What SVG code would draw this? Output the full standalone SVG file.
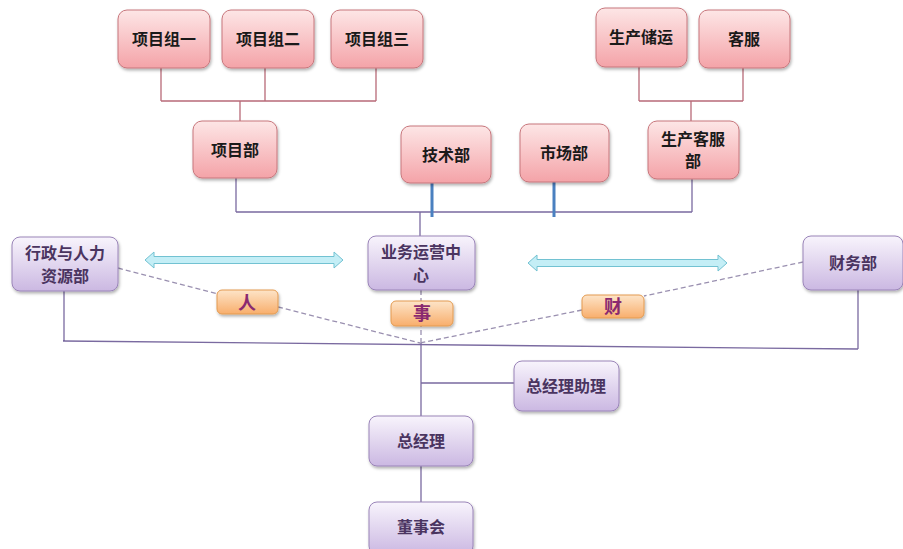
<svg xmlns="http://www.w3.org/2000/svg" width="903" height="549" viewBox="0 0 903 549">
<defs>
<linearGradient id="gp" x1="0" y1="0" x2="0" y2="1"><stop offset="0" stop-color="#fde6e6"/><stop offset="1" stop-color="#f4a3a8"/></linearGradient>
<linearGradient id="gv" x1="0" y1="0" x2="0" y2="1"><stop offset="0" stop-color="#f8f4fc"/><stop offset="1" stop-color="#cbb8e2"/></linearGradient>
<linearGradient id="go" x1="0" y1="0" x2="0" y2="1"><stop offset="0" stop-color="#fde4c8"/><stop offset="1" stop-color="#f8ae6c"/></linearGradient>
<filter id="sh" x="-10%" y="-10%" width="130%" height="140%"><feDropShadow dx="1" dy="2" stdDeviation="1.5" flood-color="#000" flood-opacity="0.3"/></filter>
<style>
.p{fill:url(#gp);stroke:#c7767c;stroke-width:1;filter:url(#sh)}
.v{fill:url(#gv);stroke:#9a84b8;stroke-width:1;filter:url(#sh)}
.o{fill:url(#go);stroke:#e39a50;stroke-width:1;filter:url(#sh)}
.t{font-family:"Noto Sans CJK SC",sans-serif;font-weight:bold;font-size:16px;text-anchor:middle;fill:#1a1a1a}
.tv{font-family:"Noto Sans CJK SC",sans-serif;font-weight:bold;font-size:16px;text-anchor:middle;fill:#4a3460}
.to{font-family:"Noto Sans CJK SC",sans-serif;font-weight:bold;font-size:18px;text-anchor:middle;fill:#8a2a70}
.lr{stroke:#b86a78;stroke-width:1.3;fill:none}
.lp{stroke:#7a6aa0;stroke-width:1.3;fill:none}
.lb{stroke:#4a80c0;stroke-width:3;fill:none}
.ld{stroke:#9a90b0;stroke-width:1.3;stroke-dasharray:5,3;fill:none}
.ar{fill:#c4eef6;stroke:#72c2d2;stroke-width:1}
</style>
</defs>
<g id="connectors">
<path class="lr" d="M161 68V101M265 68V101M376 68V101M161 101H376M240 101V121"/>
<path class="lr" d="M639 67V101M743 68V101M639 101H743M691 101V121"/>
<path class="lp" d="M236 178V212M692 179V212M236 212H692M420 212V236"/>
<path class="lb" d="M432 183V217M554 182V217"/>
<path class="ld" d="M118 268L218 294M278 307L420 343M803 262L644 296M582 310L420 343M421 290V343"/>
<path class="lp" d="M63 341L858 349M64 291V341M858 290V349"/>
<path class="lp" d="M421 343V416M421 383H514M421 466V502"/>
<path class="ar" d="M145 260L154 252V256.5H334V252L343 260L334 268V263.5H154V268Z"/>
<path class="ar" d="M528 263L537 255V259.5H718V255L727 263L718 271V266.5H537V271Z"/>
</g>
<g id="n1"><rect class="p" x="118" y="10" width="92" height="58" rx="9"/><text class="t" x="164" y="45">项目组一</text></g>
<g id="n2"><rect class="p" x="222" y="10" width="92" height="58" rx="9"/><text class="t" x="268" y="45">项目组二</text></g>
<g id="n3"><rect class="p" x="331" y="10" width="92" height="58" rx="9"/><text class="t" x="377" y="45">项目组三</text></g>
<g id="n4"><rect class="p" x="596" y="8" width="91" height="59" rx="9"/><text class="t" x="641" y="43">生产储运</text></g>
<g id="n5"><rect class="p" x="699" y="10" width="91" height="58" rx="9"/><text class="t" x="744" y="45">客服</text></g>
<g id="n6"><rect class="p" x="193" y="121" width="84" height="57" rx="9"/><text class="t" x="235" y="156">项目部</text></g>
<g id="n7"><rect class="p" x="401" y="126" width="90" height="57" rx="9"/><text class="t" x="446" y="161">技术部</text></g>
<g id="n8"><rect class="p" x="520" y="124" width="89" height="58" rx="9"/><text class="t" x="564" y="159">市场部</text></g>
<g id="n9"><rect class="p" x="648" y="121" width="91" height="58" rx="9"/><text class="t" x="693" y="145">生产客服</text><text class="t" x="693" y="167">部</text></g>
<g id="n10"><rect class="v" x="12" y="237" width="106" height="54" rx="8"/><text class="tv" x="65" y="259">行政与人力</text><text class="tv" x="65" y="282">资源部</text></g>
<g id="n11"><rect class="v" x="368" y="236" width="107" height="54" rx="8"/><text class="tv" x="421" y="258">业务运营中</text><text class="tv" x="421" y="281">心</text></g>
<g id="n12"><rect class="v" x="803" y="236" width="100" height="54" rx="8"/><text class="tv" x="853" y="269">财务部</text></g>
<g id="n13"><rect class="o" x="217" y="290" width="61" height="24" rx="5"/><text class="to" x="247" y="309">人</text></g>
<g id="n14"><rect class="o" x="391" y="301" width="62" height="25" rx="5"/><text class="to" x="422" y="320">事</text></g>
<g id="n15"><rect class="o" x="582" y="295" width="62" height="23" rx="5"/><text class="to" x="613" y="313">财</text></g>
<g id="n16"><rect class="v" x="514" y="361" width="105" height="50" rx="8"/><text class="tv" x="566" y="392">总经理助理</text></g>
<g id="n17"><rect class="v" x="369" y="416" width="104" height="50" rx="8"/><text class="tv" x="421" y="447">总经理</text></g>
<g id="n18"><rect class="v" x="369" y="502" width="104" height="52" rx="8"/><text class="tv" x="421" y="533">董事会</text></g>
</svg>
